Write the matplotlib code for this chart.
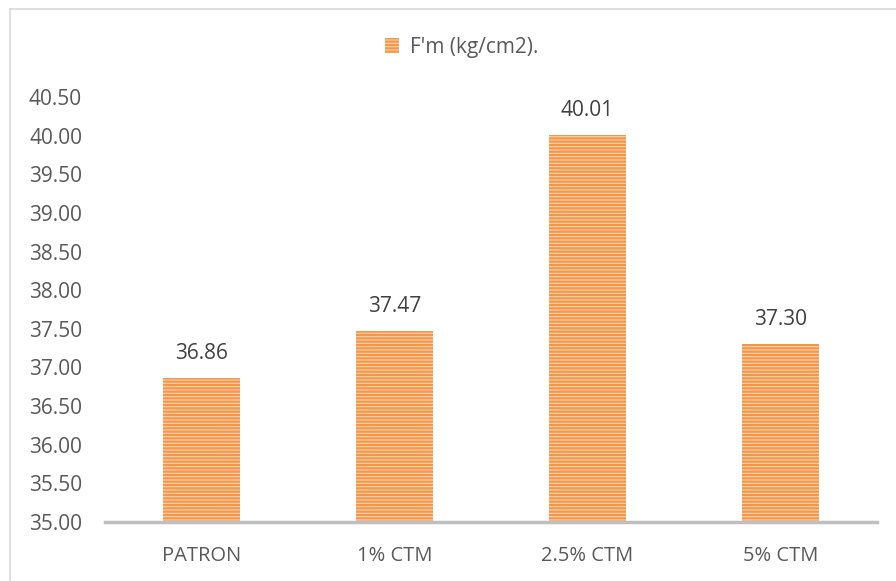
import matplotlib.pyplot as plt
import matplotlib as mpl
from matplotlib.lines import Line2D

categories = ['PATRON', '1% CTM', '2.5% CTM', '5% CTM']
values = [36.86, 37.47, 40.01, 37.30]
series_name = "F'm (kg/cm2)."
y_ticks = [35.0, 35.5, 36.0, 36.5, 37.0, 37.5, 38.0, 38.5, 39.0, 39.5, 40.0, 40.5]

text_color = '#595959'
bar_edge = '#F79646'
bar_face = '#FCD5B5'

mpl.rcParams['font.family'] = ['Open Sans', 'DejaVu Sans']
mpl.rcParams['hatch.linewidth'] = 1.6
mpl.rcParams['hatch.color'] = bar_edge

fig = plt.figure(figsize=(8.96, 5.81), dpi=100)
ax = fig.add_axes([105 / 896, 1 - 522 / 581, (877 - 105) / 896, (522 - 97) / 581])

x = range(len(categories))
bars = ax.bar(x, values, width=0.4, bottom=0, color=bar_face, edgecolor=bar_edge,
              hatch='-----', linewidth=0, label=series_name)

for xi, v in zip(x, values):
    ax.text(xi, v + 0.18, f'{v:.2f}', ha='center', va='bottom', fontsize=15, color='#404040')

ax.set_ylim(35.0, 40.5)
ax.set_xlim(-0.5, len(categories) - 0.5)
ax.set_yticks(y_ticks)
ax.set_yticklabels([f'{t:.2f}' for t in y_ticks])
ax.set_xticks(list(x))
ax.set_xticklabels(categories)
ax.tick_params(axis='y', length=0, pad=16.5, labelsize=15, labelcolor=text_color)
ax.tick_params(axis='x', length=0, pad=17, labelsize=14.5, labelcolor=text_color)

for side in ['top', 'right', 'left']:
    ax.spines[side].set_visible(False)
ax.spines['bottom'].set_color('#BFBFBF')
ax.spines['bottom'].set_linewidth(2.5)

leg = fig.legend(handles=[bars], labels=[series_name], loc='center',
                 bbox_to_anchor=(462 / 896, 1 - 47 / 581), frameon=False,
                 fontsize=15, handlelength=0.65, handleheight=0.7, handletextpad=0.55)
for t in leg.get_texts():
    t.set_color(text_color)

# light outer border of the chart area (only top and left are visible)
fig.add_artist(Line2D([9.5 / 896, 9.5 / 896], [0, 1 - 8.5 / 581], transform=fig.transFigure,
                      color='#D9D9D9', linewidth=1.2))
fig.add_artist(Line2D([9.5 / 896, 1], [1 - 8.5 / 581, 1 - 8.5 / 581], transform=fig.transFigure,
                      color='#D9D9D9', linewidth=1.2))

fig.savefig('out.png', dpi=100)
